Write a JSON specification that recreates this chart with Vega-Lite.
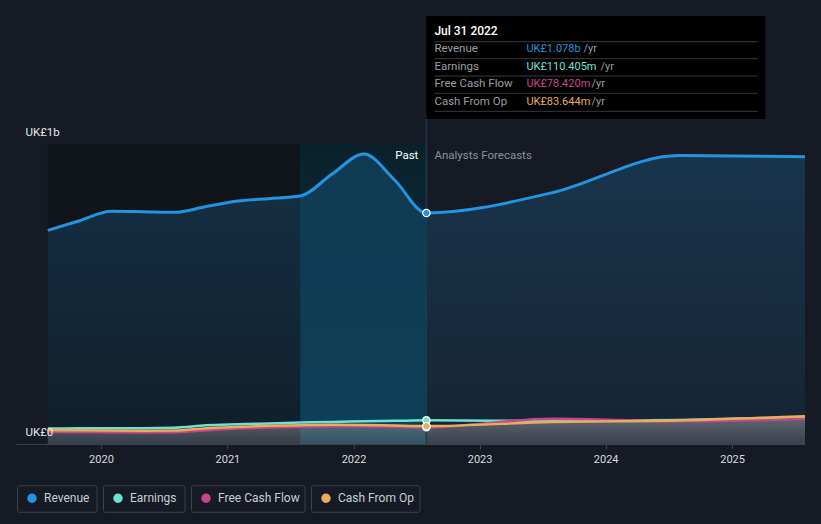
{
  "$schema": "https://vega.github.io/schema/vega-lite/v6.json",
  "width": 789,
  "height": 300,
  "autosize": {"type": "none"},
  "padding": {"left": 16, "top": 144, "right": 16, "bottom": 80},
  "background": "#151a24",
  "config": {
    "view": {"stroke": null},
    "font": "Roboto",
    "text": {"font": "Roboto"},
    "axis": {"labelFont": "Roboto"},
    "legend": {"labelFont": "Roboto", "labelFontSize": 12}
  },
  "datasets": {
    "fin": [
      {"date": "2019-07-31", "series": "Revenue", "value": 997000000},
      {"date": "2019-10-31", "series": "Revenue", "value": 1042000000},
      {"date": "2020-01-31", "series": "Revenue", "value": 1086000000},
      {"date": "2020-04-30", "series": "Revenue", "value": 1084000000},
      {"date": "2020-07-31", "series": "Revenue", "value": 1081000000},
      {"date": "2020-10-31", "series": "Revenue", "value": 1108000000},
      {"date": "2021-01-31", "series": "Revenue", "value": 1134000000},
      {"date": "2021-04-30", "series": "Revenue", "value": 1145000000},
      {"date": "2021-07-31", "series": "Revenue", "value": 1157000000},
      {"date": "2021-10-31", "series": "Revenue", "value": 1260000000},
      {"date": "2022-01-31", "series": "Revenue", "value": 1353000000},
      {"date": "2022-04-30", "series": "Revenue", "value": 1232000000},
      {"date": "2022-07-31", "series": "Revenue", "value": 1078000000},
      {"date": "2023-07-31", "series": "Revenue", "value": 1173000000},
      {"date": "2024-07-31", "series": "Revenue", "value": 1346000000},
      {"date": "2025-07-31", "series": "Revenue", "value": 1341000000},
      {"date": "2019-07-31", "series": "Earnings", "value": 72000000},
      {"date": "2019-10-31", "series": "Earnings", "value": 73000000},
      {"date": "2020-01-31", "series": "Earnings", "value": 74000000},
      {"date": "2020-04-30", "series": "Earnings", "value": 74000000},
      {"date": "2020-07-31", "series": "Earnings", "value": 76000000},
      {"date": "2020-10-31", "series": "Earnings", "value": 87000000},
      {"date": "2021-01-31", "series": "Earnings", "value": 92000000},
      {"date": "2021-04-30", "series": "Earnings", "value": 96000000},
      {"date": "2021-07-31", "series": "Earnings", "value": 100000000},
      {"date": "2021-10-31", "series": "Earnings", "value": 103000000},
      {"date": "2022-01-31", "series": "Earnings", "value": 106000000},
      {"date": "2022-04-30", "series": "Earnings", "value": 108000000},
      {"date": "2022-07-31", "series": "Earnings", "value": 110405000},
      {"date": "2023-07-31", "series": "Earnings", "value": 107000000},
      {"date": "2024-07-31", "series": "Earnings", "value": 112000000},
      {"date": "2025-07-31", "series": "Earnings", "value": 126000000},
      {"date": "2019-07-31", "series": "Free Cash Flow", "value": 57000000},
      {"date": "2019-10-31", "series": "Free Cash Flow", "value": 56000000},
      {"date": "2020-01-31", "series": "Free Cash Flow", "value": 55000000},
      {"date": "2020-04-30", "series": "Free Cash Flow", "value": 54000000},
      {"date": "2020-07-31", "series": "Free Cash Flow", "value": 55000000},
      {"date": "2020-10-31", "series": "Free Cash Flow", "value": 64000000},
      {"date": "2021-01-31", "series": "Free Cash Flow", "value": 72000000},
      {"date": "2021-04-30", "series": "Free Cash Flow", "value": 77000000},
      {"date": "2021-07-31", "series": "Free Cash Flow", "value": 81000000},
      {"date": "2021-10-31", "series": "Free Cash Flow", "value": 83000000},
      {"date": "2022-01-31", "series": "Free Cash Flow", "value": 83000000},
      {"date": "2022-04-30", "series": "Free Cash Flow", "value": 81000000},
      {"date": "2022-07-31", "series": "Free Cash Flow", "value": 78420000},
      {"date": "2023-07-31", "series": "Free Cash Flow", "value": 118000000},
      {"date": "2024-07-31", "series": "Free Cash Flow", "value": 106000000},
      {"date": "2025-07-31", "series": "Free Cash Flow", "value": 118000000},
      {"date": "2019-07-31", "series": "Cash From Op", "value": 65000000},
      {"date": "2019-10-31", "series": "Cash From Op", "value": 64000000},
      {"date": "2020-01-31", "series": "Cash From Op", "value": 63000000},
      {"date": "2020-04-30", "series": "Cash From Op", "value": 62000000},
      {"date": "2020-07-31", "series": "Cash From Op", "value": 63000000},
      {"date": "2020-10-31", "series": "Cash From Op", "value": 74000000},
      {"date": "2021-01-31", "series": "Cash From Op", "value": 80000000},
      {"date": "2021-04-30", "series": "Cash From Op", "value": 85000000},
      {"date": "2021-07-31", "series": "Cash From Op", "value": 88000000},
      {"date": "2021-10-31", "series": "Cash From Op", "value": 90000000},
      {"date": "2022-01-31", "series": "Cash From Op", "value": 89000000},
      {"date": "2022-04-30", "series": "Cash From Op", "value": 86000000},
      {"date": "2022-07-31", "series": "Cash From Op", "value": 83644000},
      {"date": "2023-07-31", "series": "Cash From Op", "value": 103000000},
      {"date": "2024-07-31", "series": "Cash From Op", "value": 110000000},
      {"date": "2025-07-31", "series": "Cash From Op", "value": 129000000}
    ],
    "tip": [
      {"row": "head", "label": "Jul 31 2022", "val": ""},
      {"row": "Revenue", "label": "Revenue", "val": "UK£1.078b"},
      {"row": "Earnings", "label": "Earnings", "val": "UK£110.405m"},
      {"row": "Free Cash Flow", "label": "Free Cash Flow", "val": "UK£78.420m"},
      {"row": "Cash From Op", "label": "Cash From Op", "val": "UK£83.644m"}
    ],
    "marks": [
      {"past": "Past", "future": "Analysts Forecasts", "unit": "/yr"}
    ]
  },
  "layer": [
    {
      "data": {"values": [{}]},
      "mark": {"type": "rect", "fill": "#10141b"},
      "encoding": {
        "x": {"datum": {"year": 2019, "month": 7, "date": 31}, "type": "temporal",
              "scale": {"domain": [{"year": 2019, "month": 4, "date": 30}, {"year": 2025, "month": 7, "date": 31}]},
              "axis": {"values": [{"year": 2020, "month": 1, "date": 1}, {"year": 2021, "month": 1, "date": 1}, {"year": 2022, "month": 1, "date": 1}, {"year": 2023, "month": 1, "date": 1}, {"year": 2024, "month": 1, "date": 1}, {"year": 2025, "month": 1, "date": 1}],
                       "format": "%Y", "title": null, "grid": false, "domainColor": "#3b414a", "tickColor": "#3b414a", "tickSize": 5,
                       "labelColor": "#d9dbde", "labelFontSize": 11, "labelPadding": 4, "labelFlush": false, "zindex": 1}},
        "x2": {"datum": {"year": 2021, "month": 7, "date": 31}},
        "y": {"datum": 0, "type": "quantitative",
              "scale": {"domain": [0, 1400000000], "nice": false, "zero": true},
              "axis": {"values": [0, 500000000, 1000000000, 1400000000], "title": null, "ticks": false, "tickSize": 0, "domain": false,
                       "labelExpr": "datum.value === 0 ? 'UK£0' : (datum.value === 1400000000 ? 'UK£1b' : '')",
                       "labelAlign": "left", "labelPadding": -9, "labelBaseline": "alphabetic", "labelOffset": -9,
                       "labelColor": "#e6e7e9", "labelFontSize": 11.5, "labelOverlap": false, "labelBound": false, "labelFlush": false,
                       "gridColor": {"condition": {"test": "datum.value === 1400000000", "value": "#41464e"}, "value": "#242b36"},
                       "gridWidth": 1, "zindex": 1}},
        "y2": {"datum": 1400000000}
      }
    },
    {
      "data": {"values": [{}]},
      "mark": {"type": "rect", "fill": {"gradient": "linear", "x1": 0, "y1": 0, "x2": 0, "y2": 1, "stops": [{"offset": 0, "color": "#0a212b"}, {"offset": 1, "color": "#0d394c"}]}},
      "encoding": {
        "x": {"datum": {"year": 2021, "month": 7, "date": 31}, "type": "temporal"},
        "x2": {"datum": {"year": 2022, "month": 7, "date": 31}},
        "y": {"datum": 0, "type": "quantitative"},
        "y2": {"datum": 1400000000}
      }
    },
    {
      "data": {"name": "fin"},
      "transform": [{"filter": "datum.series === 'Revenue'"}],
      "mark": {"type": "area", "interpolate": "monotone",
               "fill": {"gradient": "linear", "x1": 0, "y1": 0, "x2": 0, "y2": 1, "stops": [{"offset": 0, "color": "rgba(35,148,223,0.22)"}, {"offset": 1, "color": "rgba(35,148,223,0.08)"}]}},
      "encoding": {
        "x": {"field": "date", "type": "temporal"},
        "y": {"field": "value", "type": "quantitative", "stack": null}
      }
    },
    {
      "data": {"name": "fin"},
      "transform": [{"filter": "datum.series === 'Cash From Op'"}],
      "mark": {"type": "area", "interpolate": "monotone",
               "fill": {"gradient": "linear", "x1": 0, "y1": 0, "x2": 0, "y2": 1, "stops": [{"offset": 0, "color": "rgba(150,150,155,0.6)"}, {"offset": 1, "color": "rgba(120,120,128,0.35)"}]}},
      "encoding": {
        "x": {"field": "date", "type": "temporal"},
        "y": {"field": "value", "type": "quantitative", "stack": null}
      }
    },
    {
      "data": {"name": "fin"},
      "transform": [{"filter": "datum.series !== 'Revenue'"}],
      "mark": {"type": "line", "interpolate": "monotone", "strokeWidth": 2.5},
      "encoding": {
        "x": {"field": "date", "type": "temporal"},
        "y": {"field": "value", "type": "quantitative"},
        "color": {"field": "series", "type": "nominal",
                  "scale": {"domain": ["Revenue", "Earnings", "Free Cash Flow", "Cash From Op"], "range": ["#2394df", "#6be3d3", "#c8478a", "#e8ac5d"]},
                  "legend": {"title": null, "orient": "none", "legendX": 1, "legendY": 341, "direction": "horizontal", "padding": 0, "offset": 0,
                             "symbolType": "circle", "symbolSize": 64, "labelColor": "#c9cdd3", "labelFontSize": 12, "columnPadding": 5,
                             "encoding": {
                               "entries": {"stroke": {"value": "#3b414b"}, "strokeWidth": {"value": 1}, "cornerRadius": {"value": 2},
                                           "noBound": {"value": false},
                                           "width": {"value": {"signal": "datum.index === 0 ? 79 : (datum.index === 1 ? 81 : (datum.index === 2 ? 113 : 108))"}},
                                           "height": {"value": 26}},
                               "symbols": {"x": {"value": 15}, "y": {"value": 13}},
                               "labels": {"x": {"value": 27}, "y": {"value": 13}, "baseline": {"value": "middle"}, "align": {"value": "left"}}
                             }}},
        "order": {"field": "date", "type": "temporal"}
      }
    },
    {
      "data": {"name": "fin"},
      "transform": [{"filter": "datum.series === 'Revenue'"}],
      "mark": {"type": "line", "interpolate": "monotone", "strokeWidth": 3},
      "encoding": {
        "x": {"field": "date", "type": "temporal"},
        "y": {"field": "value", "type": "quantitative"},
        "color": {"field": "series", "type": "nominal"}
      }
    },
    {
      "data": {"values": [{}]},
      "mark": {"type": "rule", "stroke": "#1b3a4a", "strokeWidth": 1.5, "y2Offset": -25},
      "encoding": {
        "x": {"datum": {"year": 2022, "month": 7, "date": 31}, "type": "temporal"},
        "y": {"datum": 0, "type": "quantitative"},
        "y2": {"datum": 1400000000}
      }
    },
    {
      "data": {"name": "fin"},
      "transform": [{"filter": {"field": "date", "equal": {"year": 2022, "month": 7, "date": 31}}},
                    {"calculate": "indexof(['Free Cash Flow','Earnings','Cash From Op','Revenue'], datum.series)", "as": "ord"}],
      "mark": {"type": "point", "filled": true, "size": 55, "stroke": "#ffffff", "strokeWidth": 1.2, "opacity": 1},
      "encoding": {
        "x": {"field": "date", "type": "temporal"},
        "y": {"field": "value", "type": "quantitative"},
        "fill": {"field": "series", "type": "nominal", "scale": {"domain": ["Revenue", "Earnings", "Free Cash Flow", "Cash From Op"], "range": ["#2394df", "#6be3d3", "#c8478a", "#e8ac5d"]}, "legend": null},
        "order": {"field": "ord", "type": "quantitative"}
      }
    },
    {
      "data": {"name": "marks"},
      "mark": {"type": "text", "align": "right", "baseline": "middle", "dx": -8, "dy": 12, "fill": "#ffffff", "fontSize": 11.5},
      "encoding": {
        "x": {"datum": {"year": 2022, "month": 7, "date": 31}, "type": "temporal"},
        "y": {"datum": 1400000000, "type": "quantitative"},
        "text": {"field": "past"}
      }
    },
    {
      "data": {"name": "marks"},
      "mark": {"type": "text", "align": "left", "baseline": "middle", "dx": 8, "dy": 12, "fill": "#8c9199", "fontSize": 11.5},
      "encoding": {
        "x": {"datum": {"year": 2022, "month": 7, "date": 31}, "type": "temporal"},
        "y": {"datum": 1400000000, "type": "quantitative"},
        "text": {"field": "future"}
      }
    },
    {
      "data": {"values": [{}]},
      "mark": {"type": "rect", "fill": "#000000", "x2Offset": 339, "yOffset": -128, "y2Offset": -25},
      "encoding": {
        "x": {"datum": {"year": 2022, "month": 7, "date": 31}, "type": "temporal"},
        "x2": {"datum": {"year": 2022, "month": 7, "date": 31}},
        "y": {"datum": 1400000000, "type": "quantitative"},
        "y2": {"datum": 1400000000}
      }
    },
    {"data": {"values": [{}]}, "mark": {"type": "rule", "stroke": "#3a3a3a", "strokeWidth": 1, "xOffset": 8, "x2Offset": 331, "yOffset": -102.3},
     "encoding": {"x": {"datum": {"year": 2022, "month": 7, "date": 31}, "type": "temporal"}, "x2": {"datum": {"year": 2022, "month": 7, "date": 31}}, "y": {"datum": 1400000000, "type": "quantitative"}}},
    {"data": {"values": [{}]}, "mark": {"type": "rule", "stroke": "#3a3a3a", "strokeWidth": 1, "xOffset": 8, "x2Offset": 331, "yOffset": -85.3},
     "encoding": {"x": {"datum": {"year": 2022, "month": 7, "date": 31}, "type": "temporal"}, "x2": {"datum": {"year": 2022, "month": 7, "date": 31}}, "y": {"datum": 1400000000, "type": "quantitative"}}},
    {"data": {"values": [{}]}, "mark": {"type": "rule", "stroke": "#3a3a3a", "strokeWidth": 1, "xOffset": 8, "x2Offset": 331, "yOffset": -68},
     "encoding": {"x": {"datum": {"year": 2022, "month": 7, "date": 31}, "type": "temporal"}, "x2": {"datum": {"year": 2022, "month": 7, "date": 31}}, "y": {"datum": 1400000000, "type": "quantitative"}}},
    {"data": {"values": [{}]}, "mark": {"type": "rule", "stroke": "#3a3a3a", "strokeWidth": 1, "xOffset": 8, "x2Offset": 331, "yOffset": -50.7},
     "encoding": {"x": {"datum": {"year": 2022, "month": 7, "date": 31}, "type": "temporal"}, "x2": {"datum": {"year": 2022, "month": 7, "date": 31}}, "y": {"datum": 1400000000, "type": "quantitative"}}},
    {"data": {"values": [{}]}, "mark": {"type": "rule", "stroke": "#3a3a3a", "strokeWidth": 1, "xOffset": 8, "x2Offset": 331, "yOffset": -32.7},
     "encoding": {"x": {"datum": {"year": 2022, "month": 7, "date": 31}, "type": "temporal"}, "x2": {"datum": {"year": 2022, "month": 7, "date": 31}}, "y": {"datum": 1400000000, "type": "quantitative"}}},
    {"data": {"name": "tip"}, "transform": [{"filter": "datum.row === 'head'"}],
     "mark": {"type": "text", "align": "left", "baseline": "middle", "dx": 8, "dy": -113, "fill": "#ffffff", "fontSize": 12, "fontWeight": 500},
     "encoding": {"x": {"datum": {"year": 2022, "month": 7, "date": 31}, "type": "temporal"}, "y": {"datum": 1400000000, "type": "quantitative"}, "text": {"field": "label"}}},
    {"data": {"name": "tip"}, "transform": [{"filter": "datum.row === 'Revenue'"}],
     "mark": {"type": "text", "align": "left", "baseline": "middle", "dx": 8, "dy": -94.7, "fill": "#9a9ea4", "fontSize": 11.5},
     "encoding": {"x": {"datum": {"year": 2022, "month": 7, "date": 31}, "type": "temporal"}, "y": {"datum": 1400000000, "type": "quantitative"}, "text": {"field": "label"}}},
    {"data": {"name": "tip"}, "transform": [{"filter": "datum.row === 'Earnings'"}],
     "mark": {"type": "text", "align": "left", "baseline": "middle", "dx": 8, "dy": -77.3, "fill": "#9a9ea4", "fontSize": 11.5},
     "encoding": {"x": {"datum": {"year": 2022, "month": 7, "date": 31}, "type": "temporal"}, "y": {"datum": 1400000000, "type": "quantitative"}, "text": {"field": "label"}}},
    {"data": {"name": "tip"}, "transform": [{"filter": "datum.row === 'Free Cash Flow'"}],
     "mark": {"type": "text", "align": "left", "baseline": "middle", "dx": 8, "dy": -59.7, "fill": "#9a9ea4", "fontSize": 11.5},
     "encoding": {"x": {"datum": {"year": 2022, "month": 7, "date": 31}, "type": "temporal"}, "y": {"datum": 1400000000, "type": "quantitative"}, "text": {"field": "label"}}},
    {"data": {"name": "tip"}, "transform": [{"filter": "datum.row === 'Cash From Op'"}],
     "mark": {"type": "text", "align": "left", "baseline": "middle", "dx": 8, "dy": -42.3, "fill": "#9a9ea4", "fontSize": 11.5},
     "encoding": {"x": {"datum": {"year": 2022, "month": 7, "date": 31}, "type": "temporal"}, "y": {"datum": 1400000000, "type": "quantitative"}, "text": {"field": "label"}}},
    {"data": {"name": "tip"}, "transform": [{"filter": "datum.row === 'Revenue'"}],
     "mark": {"type": "text", "align": "left", "baseline": "middle", "dx": 100, "dy": -94.7, "fill": "#2394df", "fontSize": 11},
     "encoding": {"x": {"datum": {"year": 2022, "month": 7, "date": 31}, "type": "temporal"}, "y": {"datum": 1400000000, "type": "quantitative"}, "text": {"field": "val"}}},
    {"data": {"name": "tip"}, "transform": [{"filter": "datum.row === 'Earnings'"}],
     "mark": {"type": "text", "align": "left", "baseline": "middle", "dx": 100, "dy": -77.3, "fill": "#6be3d3", "fontSize": 11},
     "encoding": {"x": {"datum": {"year": 2022, "month": 7, "date": 31}, "type": "temporal"}, "y": {"datum": 1400000000, "type": "quantitative"}, "text": {"field": "val"}}},
    {"data": {"name": "tip"}, "transform": [{"filter": "datum.row === 'Free Cash Flow'"}],
     "mark": {"type": "text", "align": "left", "baseline": "middle", "dx": 100, "dy": -59.7, "fill": "#c8478a", "fontSize": 11},
     "encoding": {"x": {"datum": {"year": 2022, "month": 7, "date": 31}, "type": "temporal"}, "y": {"datum": 1400000000, "type": "quantitative"}, "text": {"field": "val"}}},
    {"data": {"name": "tip"}, "transform": [{"filter": "datum.row === 'Cash From Op'"}],
     "mark": {"type": "text", "align": "left", "baseline": "middle", "dx": 100, "dy": -42.3, "fill": "#e8ac5d", "fontSize": 11},
     "encoding": {"x": {"datum": {"year": 2022, "month": 7, "date": 31}, "type": "temporal"}, "y": {"datum": 1400000000, "type": "quantitative"}, "text": {"field": "val"}}},
    {"data": {"name": "marks"},
     "mark": {"type": "text", "align": "left", "baseline": "middle", "dx": 157, "dy": -94.7, "fill": "#9a9ea4", "fontSize": 11},
     "encoding": {"x": {"datum": {"year": 2022, "month": 7, "date": 31}, "type": "temporal"}, "y": {"datum": 1400000000, "type": "quantitative"}, "text": {"field": "unit"}}},
    {"data": {"name": "marks"},
     "mark": {"type": "text", "align": "left", "baseline": "middle", "dx": 174, "dy": -77.3, "fill": "#9a9ea4", "fontSize": 11},
     "encoding": {"x": {"datum": {"year": 2022, "month": 7, "date": 31}, "type": "temporal"}, "y": {"datum": 1400000000, "type": "quantitative"}, "text": {"field": "unit"}}},
    {"data": {"name": "marks"},
     "mark": {"type": "text", "align": "left", "baseline": "middle", "dx": 165, "dy": -59.7, "fill": "#9a9ea4", "fontSize": 11},
     "encoding": {"x": {"datum": {"year": 2022, "month": 7, "date": 31}, "type": "temporal"}, "y": {"datum": 1400000000, "type": "quantitative"}, "text": {"field": "unit"}}},
    {"data": {"name": "marks"},
     "mark": {"type": "text", "align": "left", "baseline": "middle", "dx": 165, "dy": -42.3, "fill": "#9a9ea4", "fontSize": 11},
     "encoding": {"x": {"datum": {"year": 2022, "month": 7, "date": 31}, "type": "temporal"}, "y": {"datum": 1400000000, "type": "quantitative"}, "text": {"field": "unit"}}}
  ]
}
